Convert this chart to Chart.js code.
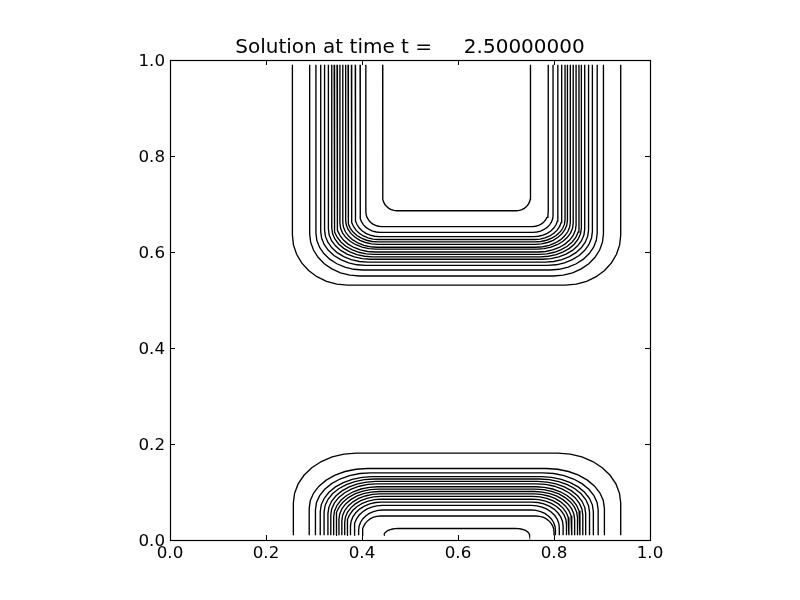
<!DOCTYPE html>
<html>
<head>
<meta charset="utf-8">
<script src="https://cdn.jsdelivr.net/npm/chart.js@4.4.0/dist/chart.umd.min.js"></script>
<style>
  html, body { margin: 0; padding: 0; background: #fff; }
  #wrap { width: 800px; height: 600px; }
</style>
</head>
<body>
<div id="wrap"><canvas id="chart-contour" width="800" height="600"></canvas></div>
<script>
const tituloGrafica = 'Solution at time t =     2.50000000';
const xTicks = [0.0, 0.2, 0.4, 0.6, 0.8, 1.0];
const yTicks = [0.0, 0.2, 0.4, 0.6, 0.8, 1.0];

// Contornos de arriba (U abierta hacia arriba), del mas interior al exterior
const topLeftX  = [0.443, 0.408, 0.396, 0.386, 0.378, 0.371, 0.366, 0.360, 0.354, 0.348, 0.342, 0.337, 0.330, 0.322, 0.314, 0.304, 0.291, 0.255];
const topRightX = [0.751, 0.788, 0.798, 0.808, 0.816, 0.823, 0.828, 0.834, 0.840, 0.846, 0.852, 0.857, 0.864, 0.872, 0.880, 0.890, 0.903, 0.939];
const topEdgeY  = [0.686, 0.653, 0.641, 0.632, 0.626, 0.621, 0.616, 0.610, 0.606, 0.600, 0.595, 0.590, 0.585, 0.579, 0.572, 0.5625, 0.550, 0.531];
const topRadX   = [0.029, 0.033, 0.042, 0.050, 0.056, 0.0625, 0.067, 0.071, 0.075, 0.079, 0.083, 0.085, 0.0875, 0.090, 0.094, 0.098, 0.104, 0.115];
const topRadY   = [0.029, 0.031, 0.035, 0.040, 0.044, 0.046, 0.050, 0.052, 0.054, 0.056, 0.058, 0.060, 0.0625, 0.067, 0.071, 0.077, 0.0875, 0.104];
const topOpenY  = 0.99;

// Contornos de abajo (U invertida, abierta hacia abajo)
const botLeftX  = [0.446, 0.401, 0.393, 0.384, 0.376, 0.369, 0.364, 0.358, 0.352, 0.346, 0.341, 0.335, 0.329, 0.321, 0.313, 0.303, 0.290, 0.257];
const botRightX = [0.749, 0.800, 0.803, 0.811, 0.819, 0.826, 0.831, 0.837, 0.843, 0.849, 0.854, 0.860, 0.866, 0.874, 0.882, 0.892, 0.905, 0.939];
const botEdgeY  = [0.024, 0.050, 0.0625, 0.072, 0.079, 0.085, 0.091, 0.096, 0.101, 0.106, 0.111, 0.117, 0.122, 0.127, 0.132, 0.140, 0.149, 0.181];
const botRadX   = [0.029, 0.0375, 0.050, 0.058, 0.065, 0.071, 0.075, 0.079, 0.083, 0.0875, 0.092, 0.096, 0.100, 0.104, 0.108, 0.115, 0.121, 0.131];
const botRadY   = [0.014, 0.033, 0.042, 0.046, 0.050, 0.052, 0.054, 0.056, 0.058, 0.060, 0.0625, 0.065, 0.067, 0.069, 0.073, 0.077, 0.083, 0.104];
const botOpenY  = 0.01;

const pasosEsquina = 8;

function contornoArriba(i) {
  const L = topLeftX[i], R = topRightX[i], e = topEdgeY[i];
  const rx = topRadX[i], ry = topRadY[i];
  const pts = [{ x: L, y: topOpenY }];
  for (let k = 0; k <= pasosEsquina; k++) {
    const a = (Math.PI / 2) * k / pasosEsquina;
    pts.push({ x: L + rx - rx * Math.cos(a), y: e + ry - ry * Math.sin(a) });
  }
  for (let k = 0; k <= pasosEsquina; k++) {
    const a = (Math.PI / 2) * k / pasosEsquina;
    pts.push({ x: R - rx + rx * Math.sin(a), y: e + ry - ry * Math.cos(a) });
  }
  pts.push({ x: R, y: topOpenY });
  return pts;
}

function contornoAbajo(i) {
  const L = botLeftX[i], R = botRightX[i], e = botEdgeY[i];
  const rx = botRadX[i], ry = botRadY[i];
  const pts = [{ x: L, y: botOpenY }];
  for (let k = 0; k <= pasosEsquina; k++) {
    const a = (Math.PI / 2) * k / pasosEsquina;
    pts.push({ x: L + rx - rx * Math.cos(a), y: e - ry + ry * Math.sin(a) });
  }
  for (let k = 0; k <= pasosEsquina; k++) {
    const a = (Math.PI / 2) * k / pasosEsquina;
    pts.push({ x: R - rx + rx * Math.sin(a), y: e - ry + ry * Math.cos(a) });
  }
  pts.push({ x: R, y: botOpenY });
  return pts;
}

const datasets = [];
topLeftX.forEach((_, i) => {
  datasets.push({ data: contornoArriba(i) });
});
botLeftX.forEach((_, i) => {
  datasets.push({ data: contornoAbajo(i) });
});
datasets.forEach(ds => {
  ds.showLine = true;
  ds.borderColor = '#000';
  ds.borderWidth = 1.35;
  ds.pointRadius = 0;
  ds.fill = false;
  ds.tension = 0;
});

// Marco y marcas de ticks hacia adentro (estilo clasico)
const marcoPlugin = {
  id: 'marco',
  afterDraw(chart) {
    const { ctx, chartArea: a, scales } = chart;
    ctx.save();
    ctx.strokeStyle = '#000';
    ctx.lineWidth = 1;
    ctx.beginPath();
    scales.x.ticks.forEach(t => {
      const px = Math.round(scales.x.getPixelForValue(t.value)) + 0.5;
      ctx.moveTo(px, a.bottom); ctx.lineTo(px, a.bottom - 5);
      ctx.moveTo(px, a.top); ctx.lineTo(px, a.top + 5);
    });
    scales.y.ticks.forEach(t => {
      const py = Math.round(scales.y.getPixelForValue(t.value)) + 0.5;
      ctx.moveTo(a.left, py); ctx.lineTo(a.left + 5, py);
      ctx.moveTo(a.right, py); ctx.lineTo(a.right - 5, py);
    });
    ctx.stroke();
    ctx.lineWidth = 1.2;
    ctx.strokeRect(Math.round(a.left) + 0.5, Math.round(a.top) + 0.5,
      Math.round(a.right - a.left), Math.round(a.bottom - a.top));
    ctx.restore();
  }
};

Chart.defaults.font.family = "'DejaVu Sans', sans-serif";
Chart.defaults.color = '#000';

const ctx = document.getElementById('chart-contour');
new Chart(ctx, {
  type: 'scatter',
  data: { datasets: datasets },
  options: {
    responsive: false,
    animation: false,
    events: [],
    layout: { padding: { left: 0, right: 150, top: 0, bottom: 0 } },
    plugins: {
      legend: { display: false },
      tooltip: { enabled: false },
      title: {
        display: true,
        text: tituloGrafica,
        color: '#000',
        fullSize: false,
        font: { size: 20, weight: 'normal' },
        padding: { top: 36, bottom: 0 }
      }
    },
    scales: {
      x: {
        type: 'linear',
        min: 0,
        max: 1,
        afterBuildTicks: s => { s.ticks = xTicks.map(v => ({ value: v })); },
        afterFit: s => { s.height = 60; },
        grid: { display: false, drawTicks: false },
        border: { display: false },
        ticks: {
          padding: 4,
          font: { size: 16.7 },
          maxRotation: 0,
          callback: v => Number(v).toFixed(1)
        }
      },
      y: {
        type: 'linear',
        min: 0,
        max: 1,
        afterBuildTicks: s => { s.ticks = yTicks.map(v => ({ value: v })); },
        afterFit: s => { s.width = 170; },
        grid: { display: false, drawTicks: false },
        border: { display: false },
        ticks: {
          padding: 5,
          labelOffset: 2,
          font: { size: 16.7 },
          callback: v => Number(v).toFixed(1)
        }
      }
    }
  },
  plugins: [marcoPlugin]
});
</script>
</body>
</html>
